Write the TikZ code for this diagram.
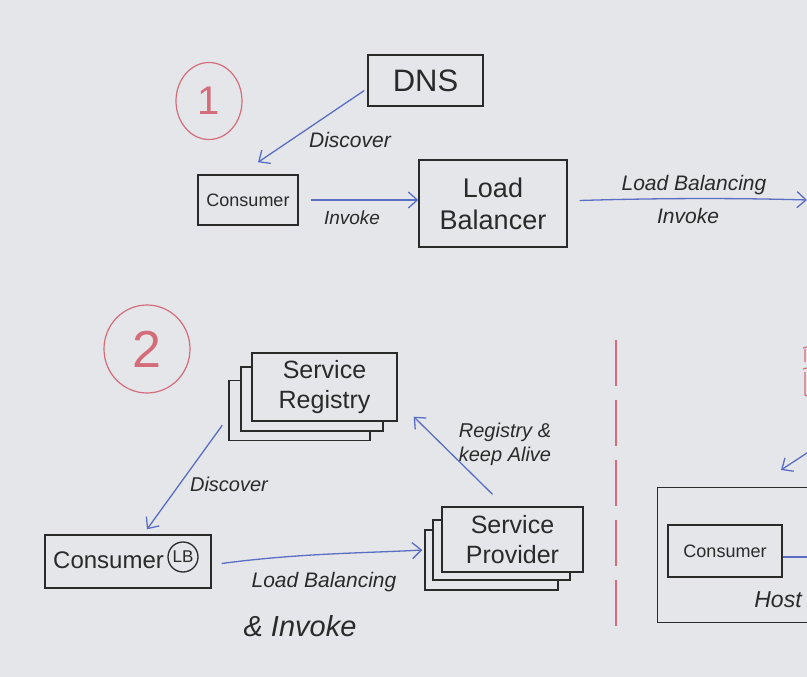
\documentclass[tikz,border=0pt]{standalone}
\usepackage{fontspec}
\setmainfont{Liberation Sans}
\usetikzlibrary{arrows.meta,shapes.geometric}
\definecolor{board}{HTML}{E4E6EA}
\definecolor{inkblue}{HTML}{5A6EC4}
\definecolor{inkred}{HTML}{D46C7A}
\definecolor{ink}{HTML}{2A2A2A}
\newcommand{\myfs}[1]{\fontsize{#1}{\the\numexpr #1*6/5\relax}\selectfont}
\tikzset{
  box/.style={draw=ink, line width=1.4pt, fill=board, inner sep=0pt, align=center, text=ink},
  flow/.style={draw=inkblue, line width=1.3pt, -{Straight Barb[length=9pt,width=16pt,line width=1.3pt]}},
  flowline/.style={draw=inkblue, line width=1.3pt},
  lbl/.style={text=ink, align=center, inner sep=0pt, font=\itshape},
  redring/.style={ellipse, draw=inkred, line width=1.2pt, text=inkred, inner sep=0pt},
}
\begin{document}
\begin{tikzpicture}[x=1pt,y=-1pt]
\fill[board] (0,0) rectangle (807,677);
\useasboundingbox (0,0) rectangle (807,677);
\clip (0,0) rectangle (807,677);

% ---------- part 1 ----------
\node[redring, minimum width=66, minimum height=77, font=\myfs{40}] (c1) at (209,101) {1};
\node[box, minimum width=115, minimum height=51, font=\myfs{31}] (dns) at (425.5,80.5) {DNS};
\node[box, minimum width=100, minimum height=50, font=\myfs{18}] (cons1) at (248,200) {Consumer};
\node[box, minimum width=148, minimum height=87, font=\myfs{27}] (lb) at (493,203.5) {Load\\Balancer};
\coordinate (out1) at (807,200);

\draw[flow] ([xshift=-3pt,yshift=-10pt]dns.west) -- ([xshift=10pt,yshift=12pt]cons1.north);
\node[lbl, font=\itshape\myfs{21}] (ldisc1) at (350,140) {Discover};
\draw[flow] ([xshift=12pt]cons1.east) -- (lb.west |- cons1.east);
\node[lbl, font=\itshape\myfs{19}] (linv1) at (352,218) {Invoke};
\draw[flow] ([xshift=12pt,yshift=3pt]lb.east) .. controls (660,198) and (740,198) .. (out1);
\node[lbl, font=\itshape\myfs{21}] (llb1) at (694,185) {Load Balancing};
\node[lbl, font=\itshape\myfs{21}] (linv2) at (688,216) {Invoke};

% ---------- part 2 ----------
\node[redring, minimum width=86, minimum height=88, font=\myfs{52}] (c2) at (147,349) {2};

\node[box, minimum width=141, minimum height=60] (sr3) at (299.5,410.5) {};
\node[box, minimum width=142, minimum height=64] (sr2) at (312,399) {};
\node[box, minimum width=145, minimum height=68, font=\myfs{25}] (sr) at (324.5,387) {Service\\Registry};

\node[box, minimum width=133, minimum height=60] (sp3) at (491.5,560) {};
\node[box, minimum width=137, minimum height=60] (sp2) at (501.5,550) {};
\node[box, minimum width=141, minimum height=65, font=\myfs{25}] (sp) at (512.5,539.5) {Service\\Provider};

\node[box, minimum width=166, minimum height=53] (cons2) at (128,561.5) {};
\node[text=ink, font=\myfs{24}, anchor=west, inner sep=0pt] (cons2t) at (53,560) {Consumer};
\node[circle, draw=ink, line width=1.3pt, minimum size=30, inner sep=0pt, font=\myfs{17}, text=ink] (lbc) at (183,557) {LB};

\draw[flow] ([xshift=-6pt,yshift=16pt]sr3.south west) -- ([xshift=19pt,yshift=5pt]cons2.north);
\node[lbl, font=\itshape\myfs{20}] (ldisc2) at (229,484) {Discover};

\draw[flow] ([xshift=10pt,yshift=-2pt]cons2.east) .. controls (300,553) and (370,553) .. ([xshift=-2pt]sp3.west |- sp2.west);
\node[lbl, font=\itshape\myfs{21}] (llb2) at (324,582) {Load Balancing};
\node[lbl, font=\itshape\myfs{29}] (linv3) at (300,626) {\& Invoke};

\draw[flow] ([xshift=-20pt,yshift=12pt]sp.north) -- ([xshift=16pt,yshift=5pt]sr.south east);
\node[lbl, font=\itshape\myfs{20}] (lreg) at (505,444) {Registry \&\\keep Alive};

% separator
\draw[inkred, line width=1.2pt, dash pattern=on 46pt off 14pt] (616,340) -- (616,636);

% ---------- part 3 (cut off) ----------
\draw[inkred, line width=1.2pt] (807,347) -- (803,348) (805,349) -- (805,362) (807,368) -- (803,369) (805,372) -- (805,395) -- (807,396);
\coordinate (in3) at (810,451);
\coordinate (arr3) at (781,470);
\draw[flow] (in3) -- (arr3);
\node[box, fill=none, minimum width=160, minimum height=135, anchor=north west] (host) at (657,487) {};
\node[box, minimum width=114, minimum height=52, font=\myfs{18}] (cons3) at (725,551) {Consumer};
\coordinate (out3) at (810,557);
\draw[flowline] (cons3.east |- out3) -- (out3);
\node[lbl, font=\itshape\myfs{23}] (lhost) at (778,600) {Host};
\end{tikzpicture}
\end{document}
